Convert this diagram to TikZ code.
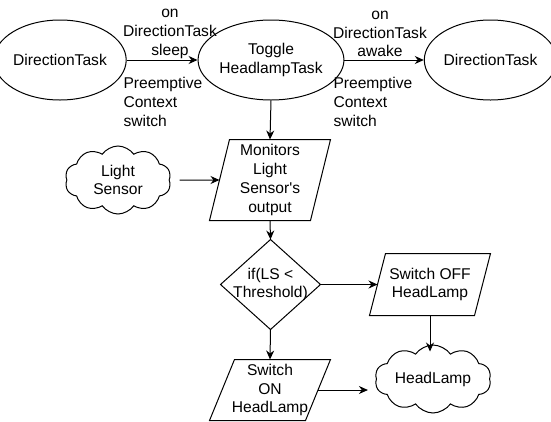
\documentclass[tikz,border=0pt]{standalone}
\usepackage{fontspec}
\setmainfont{Liberation Sans}
\usetikzlibrary{shapes.geometric,shapes.symbols,arrows.meta}
\newcommand\drawpara[2]{\draw ([xshift=#2pt]#1.north west) -- (#1.north east) -- ([xshift=-#2pt]#1.south east) -- (#1.south west) -- cycle;}
\begin{document}
\begin{tikzpicture}[x=1pt,y=-1pt,
  line width=1pt,
  every node/.style={font=\fontsize{15.6}{18.7}\selectfont, align=center, inner sep=0pt},
  ell/.style={draw, ellipse, minimum width=120pt, minimum height=80pt},
  box/.style={minimum width=120pt, minimum height=#1},
  cloudy/.style={draw, cloud, cloud puffs=10, cloud puff arc=110, cloud ignores aspect, minimum width=#1, minimum height=68pt},
  arr/.style={-{Stealth[length=9pt,width=8pt]}}
]
\useasboundingbox (0,0) rectangle (551,421);

% ellipses
\node[ell] (dt1) at (60,60) {DirectionTask};
\node[ell] (tog) at (271,60) {Toggle\\HeadlampTask};
\node[ell, minimum width=119pt] (dt2) at (490.5,60) {DirectionTask};

% labels
\node (la1) at (170,34) {on\\DirectionTask\\sleep};
\node[align=left, anchor=west] (lb1) at (123,102) {Preemptive\\Context\\switch};
\node (la2) at (380,34) {on\\DirectionTask\\awake};
\node[align=left, anchor=west] (lb2) at (333,102) {Preemptive\\Context\\switch};

% flow shapes
\node[box=80pt] (mon) at (270,180) {Monitors\\Light\\Sensor\textquotesingle s\\output};
\drawpara{mon}{20}
\node[cloudy=106pt] (ls) at (118,180) {Light\\Sensor};
\node[minimum width=99pt, minimum height=89pt] (dia) at (270.5,284.5) {if(LS <\\Threshold)};
\draw (dia.north) -- (dia.east) -- (dia.south) -- (dia.west) -- cycle;
\node[box=61pt] (soff) at (430,284.5) {Switch OFF\\HeadLamp};
\drawpara{soff}{16}
\node[box=60pt] (son) at (270,390) {Switch\\ON\\HeadLamp};
\drawpara{son}{25}
\node[cloudy=116pt] (hl) at (433,379) {HeadLamp};
\coordinate (hltop) at ([yshift=-7pt]soff.south |- hl.north);
\coordinate (hlleft) at ([xshift=-8pt]son.east -| hl.west);

% connectors
\draw[arr] (dt1.east) -- (tog.west);
\draw[arr] (tog.east) -- (dt2.west);
\draw[arr] (tog.south) -- (mon.north);
\draw[arr] ([xshift=10pt]ls.east) -- ([xshift=10pt]mon.west);
\draw[arr] (mon.south) -- (dia.north);
\draw[arr] (dia.east) -- ([xshift=8pt]soff.west);
\draw[arr] (dia.south) -- (son.north);
\draw[arr] ([xshift=-12.5pt]son.east) -- (hlleft);
\draw[arr] (soff.south) -- (hltop);
\end{tikzpicture}
\end{document}
